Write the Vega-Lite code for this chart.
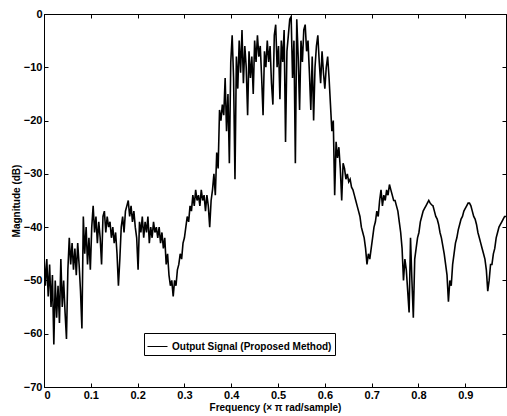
{
  "$schema": "https://vega.github.io/schema/vega-lite/v6.json",
  "autosize": "none",
  "width": 462,
  "height": 373,
  "padding": {"left": 44, "top": 14, "right": 1, "bottom": 29},
  "background": "white",
  "config": {
    "view": {"stroke": "black", "strokeWidth": 1},
    "font": "Liberation Sans",
    "axis": {
      "grid": false,
      "domainColor": "black",
      "tickColor": "black",
      "tickSize": -4,
      "labelColor": "black",
      "labelFont": "Liberation Sans",
      "labelFontSize": 11,
      "labelFontWeight": "bold",
      "titleFont": "Liberation Sans",
      "titleFontSize": 10,
      "titleFontWeight": "bold",
      "titleColor": "black"
    }
  },
  "data": {"values": [
{"f":0.000,"m":-45},{"f":0.003,"m":-51},{"f":0.006,"m":-46},{"f":0.009,"m":-53},{"f":0.012,"m":-47},{"f":0.015,"m":-55},{"f":0.018,"m":-49},{"f":0.021,"m":-62},{"f":0.024,"m":-50},{"f":0.027,"m":-57},{"f":0.030,"m":-51},{"f":0.033,"m":-58},{"f":0.036,"m":-46},{"f":0.039,"m":-55},{"f":0.042,"m":-50},{"f":0.045,"m":-56},{"f":0.048,"m":-61},{"f":0.051,"m":-48},{"f":0.054,"m":-42},{"f":0.057,"m":-47},{"f":0.060,"m":-43},{"f":0.063,"m":-48},{"f":0.066,"m":-44},{"f":0.069,"m":-49},{"f":0.072,"m":-43},{"f":0.075,"m":-47},{"f":0.078,"m":-52},{"f":0.081,"m":-59},{"f":0.084,"m":-38},{"f":0.087,"m":-45},{"f":0.090,"m":-40},{"f":0.093,"m":-47},{"f":0.096,"m":-42},{"f":0.099,"m":-48},
{"f":0.102,"m":-40},{"f":0.105,"m":-36},{"f":0.108,"m":-41},{"f":0.111,"m":-38},{"f":0.114,"m":-43},{"f":0.117,"m":-39},{"f":0.120,"m":-42},{"f":0.123,"m":-47},{"f":0.126,"m":-38},{"f":0.129,"m":-37},{"f":0.132,"m":-41},{"f":0.135,"m":-38},{"f":0.138,"m":-40},{"f":0.141,"m":-39},{"f":0.144,"m":-42},{"f":0.147,"m":-40},{"f":0.150,"m":-43},{"f":0.153,"m":-41},{"f":0.156,"m":-45},{"f":0.159,"m":-51},{"f":0.162,"m":-46},{"f":0.165,"m":-40},{"f":0.168,"m":-38},{"f":0.171,"m":-41},{"f":0.174,"m":-37},{"f":0.177,"m":-36},{"f":0.180,"m":-35},{"f":0.183,"m":-38},{"f":0.186,"m":-36},{"f":0.189,"m":-39},{"f":0.192,"m":-37},{"f":0.195,"m":-40},{"f":0.198,"m":-42},{"f":0.201,"m":-48},
{"f":0.204,"m":-39},{"f":0.207,"m":-41},{"f":0.210,"m":-38},{"f":0.213,"m":-42},{"f":0.216,"m":-39},{"f":0.219,"m":-41},{"f":0.222,"m":-38},{"f":0.225,"m":-43},{"f":0.228,"m":-40},{"f":0.231,"m":-42},{"f":0.234,"m":-39},{"f":0.237,"m":-41},{"f":0.240,"m":-40},{"f":0.243,"m":-42},{"f":0.246,"m":-40},{"f":0.249,"m":-43},{"f":0.252,"m":-41},{"f":0.255,"m":-44},{"f":0.258,"m":-42},{"f":0.261,"m":-47},{"f":0.264,"m":-45},{"f":0.267,"m":-49},{"f":0.270,"m":-51},{"f":0.273,"m":-50},{"f":0.276,"m":-53},{"f":0.279,"m":-50},{"f":0.282,"m":-51},{"f":0.285,"m":-48},{"f":0.288,"m":-47},{"f":0.291,"m":-45},{"f":0.294,"m":-46},{"f":0.297,"m":-43},{"f":0.300,"m":-42},
{"f":0.303,"m":-40},{"f":0.306,"m":-38},{"f":0.309,"m":-39},{"f":0.312,"m":-36},{"f":0.315,"m":-37},{"f":0.318,"m":-34},{"f":0.321,"m":-36},{"f":0.324,"m":-33},{"f":0.327,"m":-35},{"f":0.330,"m":-34},{"f":0.333,"m":-36},{"f":0.336,"m":-33},{"f":0.339,"m":-35},{"f":0.342,"m":-34},{"f":0.345,"m":-37},{"f":0.348,"m":-34},{"f":0.351,"m":-36},{"f":0.354,"m":-40},{"f":0.357,"m":-35},{"f":0.360,"m":-33},{"f":0.363,"m":-30},{"f":0.366,"m":-34},{"f":0.369,"m":-26},{"f":0.372,"m":-29},{"f":0.375,"m":-18},{"f":0.378,"m":-20},{"f":0.381,"m":-17},{"f":0.384,"m":-19},{"f":0.387,"m":-12},{"f":0.390,"m":-22},{"f":0.393,"m":-15},{"f":0.396,"m":-28},{"f":0.399,"m":-9},{"f":0.402,"m":-4},
{"f":0.405,"m":-12},{"f":0.408,"m":-31},{"f":0.411,"m":-8},{"f":0.414,"m":-14},{"f":0.417,"m":-5},{"f":0.420,"m":-11},{"f":0.423,"m":-3},{"f":0.426,"m":-13},{"f":0.429,"m":-6},{"f":0.432,"m":-10},{"f":0.435,"m":-19},{"f":0.438,"m":-7},{"f":0.441,"m":-12},{"f":0.444,"m":-8},{"f":0.447,"m":-15},{"f":0.450,"m":-5},{"f":0.453,"m":-9},{"f":0.456,"m":-4},{"f":0.459,"m":-8},{"f":0.462,"m":-6},{"f":0.465,"m":-12},{"f":0.468,"m":-19},{"f":0.471,"m":-7},{"f":0.474,"m":-10},{"f":0.477,"m":-5},{"f":0.480,"m":-9},{"f":0.483,"m":-6},{"f":0.486,"m":-13},{"f":0.489,"m":-17},{"f":0.492,"m":-4},{"f":0.495,"m":-2},{"f":0.498,"m":-10},{"f":0.501,"m":-6},{"f":0.504,"m":-16},{"f":0.507,"m":-5},{"f":0.510,"m":-9},{"f":0.513,"m":-3},{"f":0.516,"m":-24},{"f":0.519,"m":-7},{"f":0.522,"m":-4},{"f":0.525,"m":-1},{"f":0.528,"m":-0.5},{"f":0.531,"m":-12},{"f":0.534,"m":-5},{"f":0.537,"m":-28},{"f":0.540,"m":-1},{"f":0.543,"m":-8},{"f":0.546,"m":-18},{"f":0.549,"m":-5},{"f":0.552,"m":-9},{"f":0.555,"m":-3},{"f":0.558,"m":-2},{"f":0.561,"m":-7},{"f":0.564,"m":-5},{"f":0.567,"m":-11},{"f":0.570,"m":-18},{"f":0.573,"m":-8},{"f":0.576,"m":-20},{"f":0.579,"m":-10},{"f":0.582,"m":-6},{"f":0.585,"m":-4},{"f":0.588,"m":-9},{"f":0.591,"m":-13},{"f":0.594,"m":-7},{"f":0.597,"m":-11},{"f":0.600,"m":-14},
{"f":0.603,"m":-10},{"f":0.606,"m":-8},{"f":0.609,"m":-12},{"f":0.612,"m":-17},{"f":0.615,"m":-22},{"f":0.618,"m":-20},{"f":0.621,"m":-34},{"f":0.624,"m":-24},{"f":0.627,"m":-27},{"f":0.630,"m":-25},{"f":0.633,"m":-29},{"f":0.636,"m":-35},{"f":0.639,"m":-28},{"f":0.642,"m":-29},{"f":0.645,"m":-31},{"f":0.648,"m":-30},{"f":0.651,"m":-31.5},{"f":0.654,"m":-31},{"f":0.657,"m":-32.5},{"f":0.660,"m":-33},{"f":0.663,"m":-34},{"f":0.666,"m":-35},{"f":0.669,"m":-36},{"f":0.672,"m":-37},{"f":0.675,"m":-38},{"f":0.678,"m":-40},{"f":0.681,"m":-41},{"f":0.684,"m":-42},{"f":0.687,"m":-44},{"f":0.690,"m":-47},{"f":0.693,"m":-45},{"f":0.696,"m":-46},{"f":0.699,"m":-44},
{"f":0.702,"m":-42},{"f":0.705,"m":-40},{"f":0.708,"m":-39},{"f":0.711,"m":-37},{"f":0.714,"m":-38},{"f":0.717,"m":-35},{"f":0.720,"m":-33},{"f":0.723,"m":-36},{"f":0.726,"m":-34},{"f":0.729,"m":-35},{"f":0.732,"m":-33},{"f":0.735,"m":-34},{"f":0.738,"m":-32},{"f":0.741,"m":-33},{"f":0.744,"m":-34},{"f":0.747,"m":-35},{"f":0.750,"m":-35},{"f":0.753,"m":-36},{"f":0.756,"m":-37},{"f":0.759,"m":-39},{"f":0.762,"m":-41},{"f":0.765,"m":-44},{"f":0.768,"m":-50},{"f":0.771,"m":-46},{"f":0.774,"m":-48},{"f":0.777,"m":-52},{"f":0.780,"m":-56},{"f":0.783,"m":-42},{"f":0.786,"m":-50},{"f":0.789,"m":-57},{"f":0.792,"m":-46},{"f":0.795,"m":-44},{"f":0.798,"m":-42},
{"f":0.801,"m":-41},{"f":0.804,"m":-39},{"f":0.807,"m":-38},{"f":0.810,"m":-37},{"f":0.813,"m":-36.5},{"f":0.816,"m":-36},{"f":0.819,"m":-35.5},{"f":0.822,"m":-35},{"f":0.825,"m":-35.5},{"f":0.828,"m":-35.8},{"f":0.831,"m":-36},{"f":0.834,"m":-37},{"f":0.837,"m":-38},{"f":0.840,"m":-38.5},{"f":0.843,"m":-39.5},{"f":0.846,"m":-41},{"f":0.849,"m":-42},{"f":0.852,"m":-43.5},{"f":0.855,"m":-45},{"f":0.858,"m":-47},{"f":0.861,"m":-49},{"f":0.864,"m":-54},{"f":0.867,"m":-50},{"f":0.870,"m":-51},{"f":0.873,"m":-47},{"f":0.876,"m":-45},{"f":0.879,"m":-43},{"f":0.882,"m":-42},{"f":0.885,"m":-40.5},{"f":0.888,"m":-39.5},{"f":0.891,"m":-38.5},{"f":0.894,"m":-38},{"f":0.897,"m":-37},{"f":0.900,"m":-36.5},
{"f":0.903,"m":-36},{"f":0.906,"m":-35.5},{"f":0.909,"m":-35.5},{"f":0.912,"m":-36},{"f":0.915,"m":-37},{"f":0.918,"m":-38},{"f":0.921,"m":-38.5},{"f":0.924,"m":-39.5},{"f":0.927,"m":-41},{"f":0.930,"m":-42},{"f":0.933,"m":-43},{"f":0.936,"m":-44},{"f":0.939,"m":-45},{"f":0.942,"m":-46},{"f":0.945,"m":-48},{"f":0.948,"m":-52},{"f":0.951,"m":-50},{"f":0.954,"m":-47},{"f":0.957,"m":-47},{"f":0.960,"m":-45},{"f":0.963,"m":-44},{"f":0.966,"m":-42},{"f":0.969,"m":-41},{"f":0.972,"m":-40},{"f":0.975,"m":-39.5},{"f":0.978,"m":-39},{"f":0.981,"m":-38.5},{"f":0.984,"m":-38},{"f":0.987,"m":-38}
  ]},
  "layer": [
    {
      "mark": {"type": "line", "strokeWidth": 1.6, "clip": true},
      "encoding": {
        "x": {"field": "f", "type": "quantitative", "scale": {"domain": [0, 0.987], "nice": false, "zero": false},
              "axis": {"values": [0, 0.1, 0.2, 0.3, 0.4, 0.5, 0.6, 0.7, 0.8, 0.9], "format": "~g", "title": "Frequency (× π rad/sample)", "labelPadding": 6, "titlePadding": 2}},
        "y": {"field": "m", "type": "quantitative", "scale": {"domain": [-70, 0], "nice": false},
              "axis": {"values": [0, -10, -20, -30, -40, -50, -60, -70], "title": "Magnitude (dB)", "labelPadding": 6, "titlePadding": 2}},
        "color": {"datum": "Output Signal (Proposed Method)", "type": "nominal",
                  "scale": {"range": ["black"]},
                  "legend": {"title": null, "orient": "none", "legendX": 100, "legendY": 319,
                             "symbolType": "stroke", "symbolSize": 400, "symbolStrokeWidth": 1,
                             "strokeColor": "black", "fillColor": "white", "padding": 3,
                             "labelFontSize": 10, "labelFontWeight": "bold", "labelColor": "black", "labelFont": "Liberation Sans"}}
      }
    },
    {
      "mark": {"type": "point", "opacity": 0},
      "encoding": {
        "x": {"field": "f", "type": "quantitative", "axis": {"orient": "top", "values": [0, 0.1, 0.2, 0.3, 0.4, 0.5, 0.6, 0.7, 0.8, 0.9], "labels": false, "title": null}},
        "y": {"field": "m", "type": "quantitative", "axis": {"orient": "right", "values": [0, -10, -20, -30, -40, -50, -60, -70], "labels": false, "title": null}}
      }
    }
  ],
  "resolve": {"axis": {"x": "independent", "y": "independent"}}
}
